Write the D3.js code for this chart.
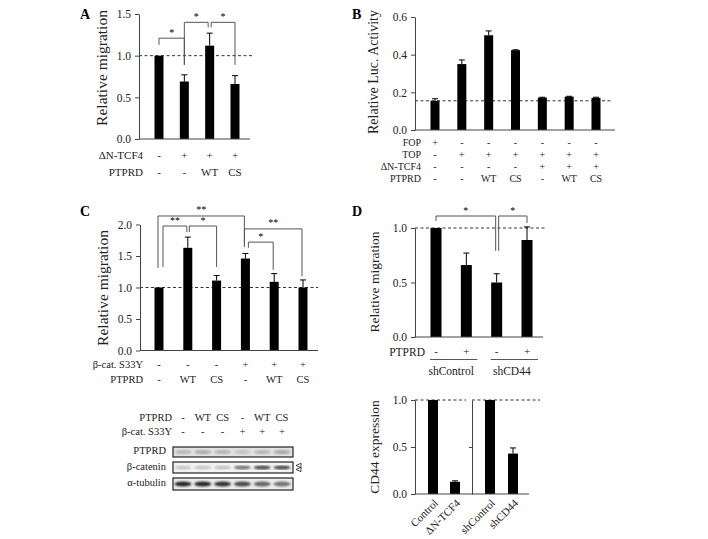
<!DOCTYPE html>
<html><head><meta charset="utf-8">
<script src="https://cdn.jsdelivr.net/npm/d3@7"></script>
<style>
body{margin:0;background:#fff;}
text{font-family:"Liberation Serif","DejaVu Serif",serif;}
</style></head><body>
<svg id="fig" width="708" height="539" font-family="Liberation Serif, DejaVu Serif, serif"></svg>
<script>
// ---------- DATA ----------
// Panel A
const aCategories = ["ctrl","dN","dN+WT","dN+CS"];
const aValues = [1.0, 0.69, 1.12, 0.66];
const aErrors = [0, 0.08, 0.15, 0.10];
const aRowNames = ["\u0394N-TCF4","PTPRD"];
const aRows = [["-","+","+","+"],["-","-","WT","CS"]];
const aTicks = [0,0.5,1.0,1.5];
// significance brackets: [from, to, top, leftLegEnd, rightLegEnd, label]
const aSig = [[0,1,1.21,1.13,0.89,"*"],[1,2,1.40,0.89,1.34,"*"],[2,3,1.40,1.34,0.89,"*"]];

// Panel B
const bCategories = ["FOP","TOP","TOP+WT","TOP+CS","TOP+dN","TOP+dN+WT","TOP+dN+CS"];
const bValues = [0.155, 0.35, 0.503, 0.424, 0.172, 0.177, 0.171];
const bErrors = [0.011, 0.022, 0.023, 0.002, 0.002, 0.002, 0.003];
const bRowNames = ["FOP","TOP","\u0394N-TCF4","PTPRD"];
const bRows = [["+","-","-","-","-","-","-"],["-","+","+","+","+","+","+"],["-","-","-","-","+","+","+"],["-","-","WT","CS","-","WT","CS"]];
const bTicks = [0,0.2,0.4,0.6];
const bBaseline = 0.155;

// Panel C
const cCategories = ["ctrl","WT","CS","S33Y","S33Y+WT","S33Y+CS"];
const cValues = [1.0, 1.63, 1.11, 1.46, 1.09, 1.0];
const cErrors = [0, 0.17, 0.08, 0.08, 0.13, 0.12];
const cRowNames = ["\u03b2-cat. S33Y","PTPRD"];
const cRows = [["-","-","-","+","+","+"],["-","WT","CS","-","WT","CS"]];
const cTicks = [0,0.5,1.0,1.5,2.0];
const cSig = [[0,3,2.135,1.31,1.675,"**"],[0,1,1.976,1.325,1.88,"**"],[1,2,1.976,1.88,1.325,"*"],[3,5,1.93,1.64,1.18,"**"],[3,4,1.72,1.63,1.28,"*"]];

// Western blot
const blotHeaderNames = ["PTPRD","\u03b2-cat. S33Y"];
const blotHeader = [["-","WT","CS","-","WT","CS"],["-","-","-","+","+","+"]];
const blotRows = ["PTPRD","\u03b2-catenin","\u03b1-tubulin"];
const blotIntensity = [[0.22,0.28,0.24,0.18,0.24,0.30],[0.15,0.15,0.16,0.50,0.68,0.68],[0.85,0.85,0.80,0.70,0.58,0.52]];

// Panel D (migration)
const dCategories = ["shControl-","shControl+","shCD44-","shCD44+"];
const dValues = [1.0, 0.66, 0.50, 0.89];
const dErrors = [0, 0.11, 0.08, 0.12];
const dSigns = ["-","+","-","+"];
const dGroups = ["shControl","shCD44"];
const dTicks = [0,0.5,1.0];
const dSig = [[0,2,1.11,1.064,0.79,"*"],[2,3,1.11,0.79,1.046,"*"]];

// Panel D (CD44 expression)
const eCategories = ["Control","\u0394N-TCF4","shControl","shCD44"];
const eValues = [1.0, 0.13, 1.0, 0.43];
const eErrors = [0, 0.01, 0, 0.06];
const eTicks = [0,0.5,1.0];

// ---------- DRAWING ----------
const FONT = "Liberation Serif, DejaVu Serif, serif";
const svg = d3.select("#fig");
const AX = "#444";
const fmt = d3.format(".1f");

function txt(g){ return g.append("text").attr("font-family",FONT).attr("fill","#222"); }

function yAxis(g, y, ticks, x0, fs){
  const ax = g.append("g").attr("transform",`translate(${x0},0)`)
    .call(d3.axisLeft(y).tickValues(ticks).tickFormat(fmt).tickSize(4).tickSizeOuter(0));
  ax.attr("font-family",FONT);
  ax.select(".domain").attr("stroke",AX);
  ax.selectAll(".tick line").attr("stroke",AX);
  ax.selectAll(".tick text").attr("font-family",FONT).attr("font-size",fs||11.5).attr("fill","#222").attr("x",-8);
  return ax;
}
function bars(g, x, y, vals, errs, w){
  g.append("g").selectAll("rect").data(vals).join("rect")
    .attr("x",(d,i)=>x(i)-w/2).attr("y",d=>y(d)).attr("width",w).attr("height",d=>y(0)-y(d)).attr("fill","#000");
  const eg = g.append("g").attr("stroke","#000").attr("stroke-width",1);
  vals.forEach((v,i)=>{
    if(errs[i]>0){
      eg.append("line").attr("x1",x(i)).attr("x2",x(i)).attr("y1",y(v)).attr("y2",y(v+errs[i]));
      eg.append("line").attr("x1",x(i)-3).attr("x2",x(i)+3).attr("y1",y(v+errs[i])).attr("y2",y(v+errs[i]));
    }
  });
}
function baseline(g, x1, x2, yv){
  g.append("line").attr("x1",x1).attr("x2",x2).attr("y1",yv).attr("y2",yv)
   .attr("stroke",AX).attr("stroke-width",1);
}
function dashed(g, x1, x2, yv){
  g.append("line").attr("x1",x1).attr("x2",x2).attr("y1",yv).attr("y2",yv)
   .attr("stroke","#333").attr("stroke-width",1).attr("stroke-dasharray","3,2.5");
}
// offsets: [leftLegDx, rightLegDx]
function brackets(g, x, y, sig, offs){
  const bg = g.append("g").attr("fill","none").attr("stroke","#555").attr("stroke-width",1);
  sig.forEach((s,k)=>{
    const o = offs[k];
    const xl = x(s[0]) + o[0], xr = x(s[1]) + o[1];
    bg.append("path").attr("d",`M${xl},${y(s[3])}V${y(s[2])}H${xr}V${y(s[4])}`);
    txt(g).attr("x",(xl+xr)/2).attr("y",y(s[2])-2.5).attr("text-anchor","middle")
      .attr("font-size",10).attr("fill","#000").text(s[5]);
  });
}
function rowLabels(g, x, names, rows, y0, dy, xLab, fs){
  names.forEach((n,r)=>{
    const yy = y0 + r*dy;
    txt(g).attr("x",xLab).attr("y",yy).attr("text-anchor","end").attr("dominant-baseline","middle")
      .attr("font-size",fs||11).text(n);
    rows[r].forEach((t,i)=>{
      txt(g).attr("x",x(i)).attr("y",yy).attr("text-anchor","middle").attr("dominant-baseline","middle")
        .attr("font-size",fs||11).text(t);
    });
  });
}
function yTitle(g, xc, yc, t, fs){
  txt(g).attr("transform",`translate(${xc},${yc}) rotate(-90)`).attr("text-anchor","middle")
    .attr("dominant-baseline","middle").attr("font-size",fs).text(t);
}
function panelLabel(t,x,y){
  txt(svg).attr("x",x).attr("y",y).attr("font-weight","bold").attr("font-size",14).attr("fill","#000").text(t);
}

// ----- Panel A -----
{
  const g = svg.append("g");
  const y = d3.scaleLinear().domain([0,1.5]).range([139,14]);
  const x = d3.scalePoint().domain(d3.range(aCategories.length)).range([159,235]);
  dashed(g,139,252,y(1));
  bars(g,x,y,aValues,aErrors,9);
  baseline(g,139,250,y(0));
  yAxis(g,y,aTicks,139);
  brackets(g,x,y,aSig,[[0,0],[0,-1.5],[1.5,0]]);
  rowLabels(g,x,aRowNames,aRows,156,17,143,11);
  yTitle(g,103,68,"Relative migration",15.5);
  panelLabel("A",80,19);
}
// ----- Panel B -----
{
  const g = svg.append("g");
  const y = d3.scaleLinear().domain([0,0.6]).range([130,17]);
  const x = d3.scalePoint().domain(d3.range(bCategories.length)).range([435,596]);
  dashed(g,415,612,y(bBaseline));
  bars(g,x,y,bValues,bErrors,9);
  baseline(g,415,615,y(0));
  yAxis(g,y,bTicks,415);
  rowLabels(g,x,bRowNames,bRows,144,12,421,10);
  yTitle(g,375,72,"Relative Luc. Activity",14);
  panelLabel("B",352,19);
}
// ----- Panel C -----
{
  const g = svg.append("g");
  const y = d3.scaleLinear().domain([0,2]).range([350.5,224.5]);
  const x = d3.scalePoint().domain(d3.range(cCategories.length)).range([159,303]);
  dashed(g,140,318,y(1));
  bars(g,x,y,cValues,cErrors,9);
  baseline(g,140,318,y(0));
  yAxis(g,y,cTicks,140);
  brackets(g,x,y,cSig,[[-1,-1],[4,-1],[1.5,0],[-1,-1],[3,-1]]);
  rowLabels(g,x,cRowNames,cRows,366,15,143,10.5);
  yTitle(g,104,288,"Relative migration",15.5);
  panelLabel("C",80,216);
}
// ----- Western blot -----
{
  const g = svg.append("g");
  const x = d3.scalePoint().domain(d3.range(6)).range([183,282]);
  rowLabels(g,x,blotHeaderNames,blotHeader,419,14,172,10.5);
  const defs = svg.append("defs");
  defs.append("filter").attr("id","blur").append("feGaussianBlur").attr("stdDeviation",0.9);
  const boxes = [[447,457],[462,473],[478,490]];
  const bgCol = ["#e2e2e2","#f2f2f2","#ededed"];
  blotRows.forEach((name,r)=>{
    const [t,b] = boxes[r];
    g.append("rect").attr("x",173).attr("y",t).attr("width",120).attr("height",b-t).attr("fill",bgCol[r]);
    const bg = g.append("g").attr("filter","url(#blur)");
    blotIntensity[r].forEach((v,i)=>{
      const c = Math.round(235*(1-v));
      bg.append("ellipse").attr("cx",x(i)).attr("cy",(t+b)/2).attr("rx",8.5).attr("ry",r===2?2.6:2)
        .attr("fill",`rgb(${c},${c},${c})`);
    });
    g.append("rect").attr("x",173).attr("y",t).attr("width",120).attr("height",b-t)
      .attr("fill","none").attr("stroke","#222").attr("stroke-width",1.2);
    txt(g).attr("x",166).attr("y",(t+b)/2).attr("text-anchor","end").attr("dominant-baseline","middle")
      .attr("font-size",10.5).text(name);
  });
  g.append("path").attr("d","M296,465.5l5,-2.2v4.4z M296,469.5l5,-2.2v4.4z").attr("fill","none").attr("stroke","#222").attr("stroke-width",0.8);
}
// ----- Panel D (migration) -----
{
  const g = svg.append("g");
  const y = d3.scaleLinear().domain([0,1]).range([337,228]);
  const x = d3.scalePoint().domain(d3.range(dCategories.length)).range([436,527]);
  dashed(g,415,545,y(1));
  bars(g,x,y,dValues,dErrors,11);
  baseline(g,415,543,y(0));
  yAxis(g,y,dTicks,415);
  brackets(g,x,y,dSig,[[0,-1],[2,0]]);
  txt(g).attr("x",425).attr("y",353).attr("text-anchor","end").attr("dominant-baseline","middle")
    .attr("font-size",11.5).text("PTPRD");
  dSigns.forEach((s,i)=>txt(g).attr("x",x(i)).attr("y",352).attr("text-anchor","middle")
    .attr("dominant-baseline","middle").attr("font-size",11).text(s));
  dGroups.forEach((gname,k)=>{
    const x1 = x(2*k)-6, x2 = x(2*k+1)+11;
    g.append("line").attr("x1",x1).attr("x2",x2).attr("y1",359.5).attr("y2",359.5).attr("stroke","#555");
    txt(g).attr("x",(x(2*k)+x(2*k+1))/2).attr("y",372).attr("text-anchor","middle")
      .attr("dominant-baseline","middle").attr("font-size",11.5).text(gname);
  });
  yTitle(g,376,282,"Relative migration",13.5);
  panelLabel("D",352,216);
}
// ----- Panel D (CD44 expression) -----
{
  const g = svg.append("g");
  const y = d3.scaleLinear().domain([0,1]).range([494,400]);
  const xp = d3.scaleOrdinal().domain(d3.range(eCategories.length)).range([433,455,490,513]);
  dashed(g,415,466,y(1));
  dashed(g,472,540,y(1));
  bars(g,xp,y,eValues,eErrors,10);
  baseline(g,415,529,y(0));
  yAxis(g,y,eTicks,415);
  const ax2 = g.append("g").attr("transform","translate(472,0)")
    .call(d3.axisLeft(y).tickValues([0.5]).tickFormat("").tickSize(3).tickSizeOuter(0));
  ax2.select(".domain").attr("stroke",AX); ax2.selectAll(".tick line").attr("stroke",AX);
  eCategories.forEach((c,i)=>{
    txt(g).attr("transform",`translate(${xp(i)+4},${502}) rotate(-45)`).attr("text-anchor","end")
      .attr("dominant-baseline","middle").attr("font-size",11).text(c);
  });
  yTitle(g,376,447,"CD44 expression",13.5);
}
</script>
</body></html>
